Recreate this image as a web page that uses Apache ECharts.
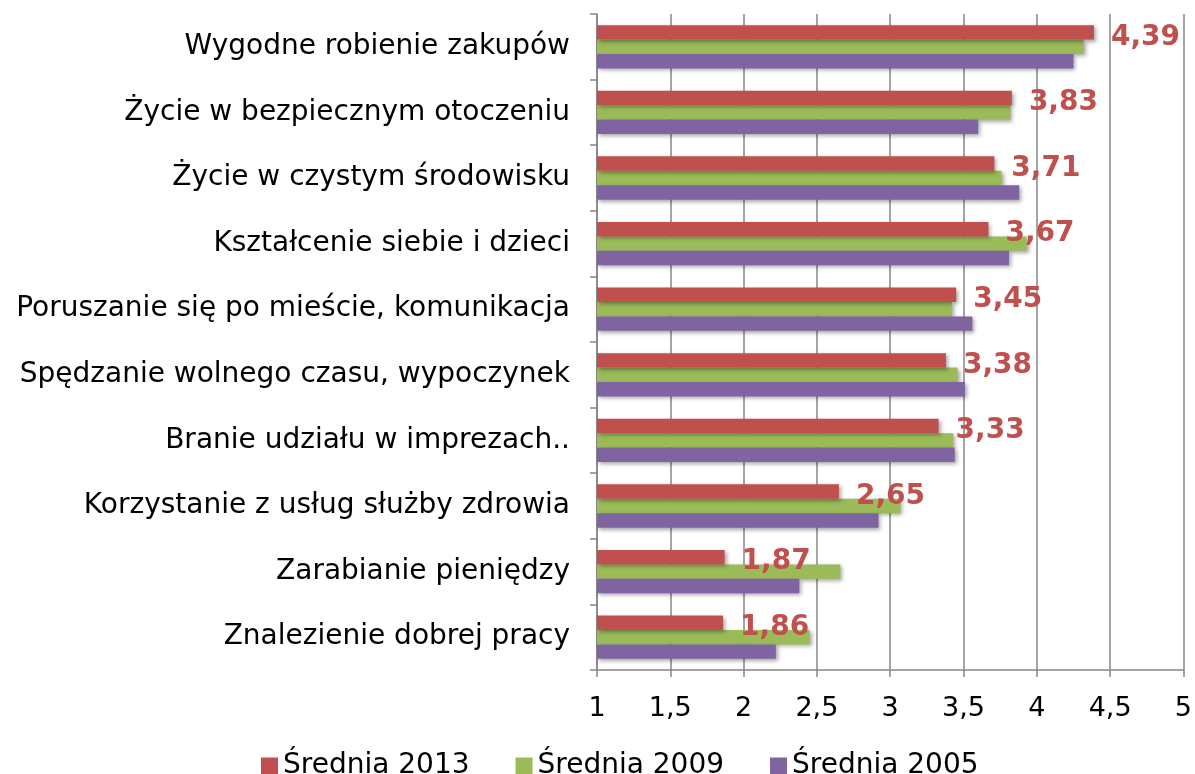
<html>
<head>
    <meta charset="utf-8">
    <title>Średnia</title>
    <script src="https://cdn.jsdelivr.net/npm/echarts@6/dist/echarts.min.js"></script>
    <style>
        body { margin: 0; background: #fff; }
    </style>
</head>
<body>
    <div id="chart" style="width:1195px;height:774px;"></div>
    <script>
        var categories = [
            'Wygodne robienie zakupów',
            'Życie w bezpiecznym otoczeniu',
            'Życie w czystym środowisku',
            'Kształcenie siebie i dzieci',
            'Poruszanie się po mieście, komunikacja',
            'Spędzanie wolnego czasu, wypoczynek',
            'Branie udziału w imprezach..',
            'Korzystanie z usług służby zdrowia',
            'Zarabianie pieniędzy',
            'Znalezienie dobrej pracy'
        ];
        var srednia2013 = [4.39, 3.83, 3.71, 3.67, 3.45, 3.38, 3.33, 2.65, 1.87, 1.86];
        var srednia2009 = [4.32, 3.82, 3.76, 3.93, 3.42, 3.46, 3.43, 3.07, 2.66, 2.45];
        var srednia2005 = [4.25, 3.60, 3.88, 3.81, 3.56, 3.51, 3.44, 2.92, 2.38, 2.22];
        var seriesNames = ['Średnia 2013', 'Średnia 2009', 'Średnia 2005'];

        var font = 'DejaVu Sans, Verdana, sans-serif';
        var gray = '#868686';

        function comma(v) {
            return String(v).replace('.', ',');
        }

        function barStyle(color) {
            return {
                color: color,
                shadowColor: 'rgba(0,0,0,0.35)',
                shadowBlur: 4,
                shadowOffsetX: 2,
                shadowOffsetY: 2
            };
        }

        var myChart = echarts.init(document.getElementById('chart'));
        var option = {
            backgroundColor: '#ffffff',
            animation: false,
            grid: {
                left: 597,
                right: 10,
                top: 14,
                bottom: 104
            },
            legend: {
                data: seriesNames,
                top: 747,
                left: 256,
                itemWidth: 17,
                itemHeight: 17,
                itemGap: 46,
                icon: 'rect',
                textStyle: {
                    fontFamily: font,
                    fontSize: 28,
                    color: '#000'
                }
            },
            xAxis: {
                type: 'value',
                min: 1,
                max: 5,
                interval: 0.5,
                axisLine: { show: true, lineStyle: { color: gray, width: 1.5 } },
                axisTick: { show: true, length: 7, lineStyle: { color: gray, width: 1.5 } },
                axisLabel: {
                    margin: 25,
                    fontFamily: font,
                    fontSize: 27,
                    color: '#000',
                    formatter: comma
                },
                splitLine: { show: true, lineStyle: { color: gray, width: 1.5 } }
            },
            yAxis: {
                type: 'category',
                data: categories,
                inverse: true,
                axisLine: { show: true, lineStyle: { color: gray, width: 1.5 } },
                axisTick: { show: true, length: 7, lineStyle: { color: gray, width: 1.5 } },
                axisLabel: {
                    margin: 27,
                    fontFamily: font,
                    fontSize: 28,
                    color: '#000'
                }
            },
            series: [{
                type: 'bar',
                name: seriesNames[0],
                data: srednia2013,
                barGap: '0%',
                barCategoryGap: '34%',
                itemStyle: barStyle('#C0504D'),
                label: {
                    show: true,
                    position: 'right',
                    distance: 17,
                    offset: [0, 5],
                    fontFamily: font,
                    fontSize: 28,
                    fontWeight: 'bold',
                    color: '#C0504D',
                    formatter: function (p) { return comma(p.value); }
                },
                z: 3
            }, {
                type: 'bar',
                name: seriesNames[1],
                data: srednia2009,
                barGap: '0%',
                barCategoryGap: '34%',
                itemStyle: barStyle('#9BBB59'),
                z: 2
            }, {
                type: 'bar',
                name: seriesNames[2],
                data: srednia2005,
                barGap: '0%',
                barCategoryGap: '34%',
                itemStyle: barStyle('#8064A2'),
                z: 2
            }]
        };
        myChart.setOption(option);
    </script>
</body>
</html>
